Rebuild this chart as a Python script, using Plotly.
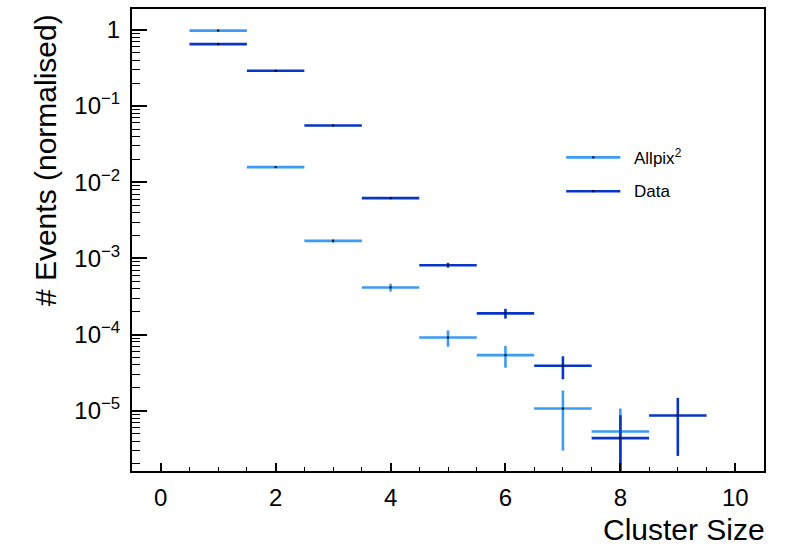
import plotly.graph_objects as go

# Cluster-size distributions (normalised), bin centres 1..9
allpix_size = [1, 2, 3, 4, 5, 6, 7, 8]
allpix_vals = [0.98, 0.0158, 1.70e-3, 4.16e-4, 9.14e-5, 5.37e-5, 1.07e-5, 5.35e-6]
allpix_err = [2.3e-3, 2.9e-4, 9.5e-5, 4.9e-5, 2.2e-5, 1.7e-5, 7.7e-6, 5.35e-6]

data_size = [1, 2, 3, 4, 5, 6, 7, 8, 9]
data_vals = [0.65, 0.291, 0.0556, 6.18e-3, 8.15e-4, 1.90e-4, 3.89e-5, 4.37e-6, 8.65e-6]
data_err = [1.6e-3, 9e-4, 4.8e-4, 1.6e-4, 5.9e-5, 2.8e-5, 1.3e-5, 4.37e-6, 6.1e-6]

bin_half_width = 0.5

y_tick_vals = [1, 1e-1, 1e-2, 1e-3, 1e-4, 1e-5]
y_tick_text = ["1", "10<sup>−1</sup>", "10<sup>−2</sup>", "10<sup>−3</sup>",
               "10<sup>−4</sup>", "10<sup>−5</sup>"]

LIGHT = "#3a9cf6"
DARK = "#0836c9"
FONT = "Liberation Sans, Arial, Helvetica, sans-serif"


def hist_trace(x, y, err, color, name):
    return go.Scatter(
        x=x, y=y, name=name, mode="markers", showlegend=False,
        marker=dict(symbol="square", size=2, color="black", line=dict(width=0)),
        error_x=dict(type="constant", value=bin_half_width, color=color,
                     thickness=2.6, width=0),
        error_y=dict(type="data", array=err, symmetric=True, color=color,
                     thickness=2.6, width=0),
    )


fig = go.Figure()
fig.add_trace(hist_trace(allpix_size, allpix_vals, allpix_err, LIGHT, "Allpix²"))
fig.add_trace(hist_trace(data_size, data_vals, data_err, DARK, "Data"))

# minor log ticks at 2..9 of each decade
minor_vals = [k * 10.0 ** e for e in range(-6, 1) for k in range(2, 10)]

fig.update_layout(
    width=787, height=547,
    margin=dict(l=132, r=23, t=7, b=76),
    paper_bgcolor="white", plot_bgcolor="white",
    font=dict(family=FONT, color="black"),
    xaxis=dict(
        range=[-0.5, 10.5], tick0=0, dtick=2, ticks="inside", ticklen=8,
        tickwidth=1.5, tickcolor="black", showgrid=False, zeroline=False,
        showline=True, linewidth=2, linecolor="black", mirror=True,
        tickfont=dict(size=24, family=FONT), ticklabelstandoff=4,
        minor=dict(ticks="inside", dtick=0.5, ticklen=4, tickwidth=1.2,
                   tickcolor="black", showgrid=False),
    ),
    yaxis=dict(
        type="log", range=[-5.791, 0.2745], tickmode="array",
        tickvals=y_tick_vals, ticktext=y_tick_text,
        ticks="inside", ticklen=15, tickwidth=1.5, tickcolor="black",
        showgrid=False, zeroline=False,
        showline=True, linewidth=2, linecolor="black", mirror=True,
        tickfont=dict(size=24, family=FONT), ticklabelstandoff=5,
        minor=dict(ticks="inside", tickvals=minor_vals, ticklen=7.5,
                   tickwidth=1.2, tickcolor="black", showgrid=False),
    ),
)

# axis titles, right-aligned to the axis ends
fig.add_annotation(text="Cluster Size", xref="paper", yref="paper",
                   x=1.0, y=-0.127, xanchor="right", yanchor="middle", xshift=3,
                   showarrow=False, font=dict(size=30, family=FONT))
fig.add_annotation(text="# Events (normalised)", xref="paper", yref="paper",
                   x=-0.1375, y=1.0, xanchor="center", yanchor="top", yshift=-3,
                   textangle=-90, showarrow=False, font=dict(size=30, family=FONT))

# legend box entries
legend_entries = [("Allpix<sup>2</sup>", LIGHT, 0.6789), ("Data", DARK, 0.6056)]
for label, color, ly in legend_entries:
    fig.add_shape(type="line", xref="paper", yref="paper",
                  x0=0.687, x1=0.7727, y0=ly, y1=ly,
                  line=dict(color=color, width=2.6))
    fig.add_shape(type="rect", xref="paper", yref="paper",
                  x0=0.7283, x1=0.7315, y0=ly - 0.0022, y1=ly + 0.0022,
                  line=dict(width=0), fillcolor="black")
    fig.add_annotation(text=label, xref="paper", yref="paper",
                       x=0.7905, y=ly, xanchor="left", yanchor="middle",
                       showarrow=False, font=dict(size=17, family=FONT))

fig.write_html("out.html")
